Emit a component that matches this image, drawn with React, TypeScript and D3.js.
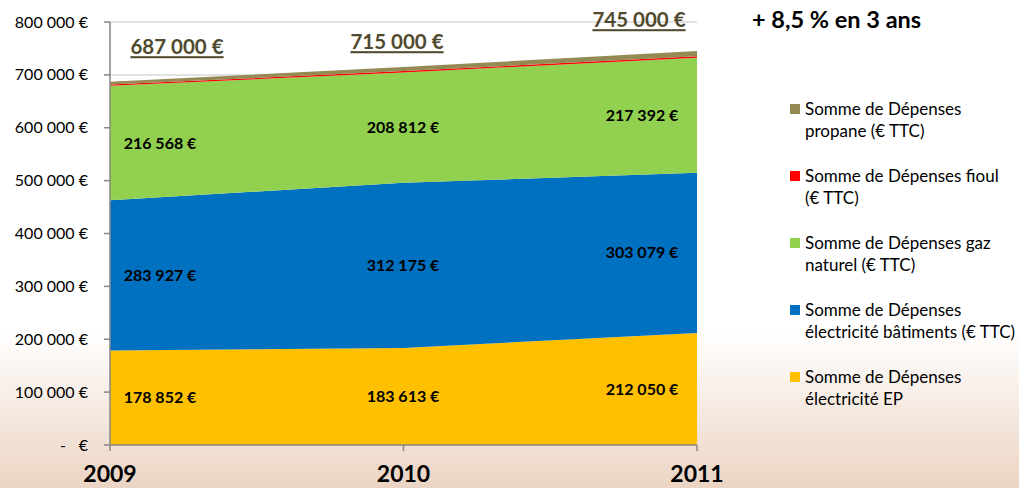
import React from "react";
import * as d3 from "d3";

const years = ["2009", "2010", "2011"];
const seriesKeys = ["ep", "batiments", "gaz", "fioul", "propane"];
const seriesNames = [
  ["Somme de Dépenses", "électricité EP"],
  ["Somme de Dépenses", "électricité bâtiments (€ TTC)"],
  ["Somme de Dépenses gaz", "naturel (€ TTC)"],
  ["Somme de Dépenses fioul", "(€ TTC)"],
  ["Somme de Dépenses", "propane (€ TTC)"],
];
const seriesColors = ["#ffc000", "#0070c0", "#92d050", "#ff0000", "#948a54"];
const ep = [178852, 183613, 212050];
const batiments = [283927, 312175, 303079];
const gaz = [216568, 208812, 217392];
const fioul = [2300, 2500, 2700];
const propane = [5353, 7900, 9779];
const totals = ["687 000 €", "715 000 €", "745 000 €"];
const yTicks = [0, 100000, 200000, 300000, 400000, 500000, 600000, 700000, 800000];

const W = 1019;
const H = 488;
const font = "Lato, 'Open Sans', sans-serif";

const fmt = (v: number) => d3.format(",")(v).replace(/,/g, " ") + " €";

export default function App() {
  const rows = years.map((y, i) => ({
    year: y,
    ep: ep[i],
    batiments: batiments[i],
    gaz: gaz[i],
    fioul: fioul[i],
    propane: propane[i],
  }));
  const stacked = d3.stack<any>().keys(seriesKeys)(rows);

  const x = d3.scalePoint().domain(years).range([110, 697]);
  const y = d3.scaleLinear().domain([0, 800000]).range([445, 22]);

  const area = d3
    .area<any>()
    .x((d) => x(d.data.year)!)
    .y0((d) => y(d[0]))
    .y1((d) => y(d[1]));

  // label x positions: first & last pulled inward
  const labelX = [160, 403, 642];
  const totalX = [177, 397, 639];
  const totalY = [47, 42, 20];

  return (
    <svg
      width={W}
      height={H}
      style={{ position: "absolute", left: 0, top: 0, fontFamily: font }}
    >
      <defs>
        <linearGradient id="bg" x1="0" y1="0" x2="0" y2="1">
          <stop offset="0" stopColor="#ffffff" />
          <stop offset="0.68" stopColor="#ffffff" />
          <stop offset="1" stopColor="#ebd4c3" />
        </linearGradient>
      </defs>
      <rect width={W} height={H} fill="url(#bg)" />

      {/* gridlines */}
      {yTicks.slice(1).map((t) => (
        <line key={t} x1={110} x2={697} y1={y(t)} y2={y(t)} stroke="#d9d9d9" strokeWidth={1.5} />
      ))}

      {/* areas */}
      {stacked.map((s, i) => (
        <path key={s.key} d={area(s) || ""} fill={seriesColors[i]} />
      ))}

      {/* y axis */}
      <line x1={110} x2={110} y1={22} y2={445} stroke="#868686" strokeWidth={1.5} />
      {yTicks.map((t) => (
        <g key={t}>
          <line x1={104} x2={110} y1={y(t)} y2={y(t)} stroke="#868686" strokeWidth={1.5} />
          {t === 0 ? (
            <>
              <text x={63} y={y(t)} dy="0.35em" textAnchor="middle" fontSize={16} fill="#000">-</text>
              <text x={88} y={y(t)} dy="0.35em" textAnchor="end" fontSize={16} fill="#000">€</text>
            </>
          ) : (
            <text x={88} y={y(t)} dy="0.35em" textAnchor="end" fontSize={16} fill="#000">
              {fmt(t)}
            </text>
          )}
        </g>
      ))}

      {/* x axis */}
      <line x1={110} x2={697} y1={445} y2={445} stroke="#868686" strokeWidth={1.5} />
      {years.map((yr) => (
        <g key={yr}>
          <line x1={x(yr)} x2={x(yr)} y1={445} y2={451} stroke="#868686" strokeWidth={1.5} />
          <text x={x(yr)} y={482} textAnchor="middle" fontSize={23} fontWeight="bold" fill="#000">
            {yr}
          </text>
        </g>
      ))}

      {/* value labels for the three big layers */}
      {stacked.slice(0, 3).map((s) =>
        s.map((d, j) => (
          <text
            key={s.key + j}
            x={labelX[j]}
            y={y((d[0] + d[1]) / 2)}
            dy="0.35em"
            textAnchor="middle"
            fontSize={16}
            fontWeight="bold"
            fill="#000"
          >
            {fmt(d[1] - d[0])}
          </text>
        ))
      )}

      {/* totals */}
      {totals.map((t, j) => (
        <text
          key={t}
          x={totalX[j]}
          y={totalY[j]}
          dy="0.35em"
          textAnchor="middle"
          fontSize={20.5}
          fontWeight="bold"
          fill="#4f4a2e"
          textDecoration="underline"
        >
          {t}
        </text>
      ))}
      <text x={752} y={20} dy="0.35em" fontSize={23.5} fontWeight="bold" fill="#000">
        + 8,5 % en 3 ans
      </text>

      {/* legend */}
      {seriesKeys
        .map((k, i) => i)
        .reverse()
        .map((i, r) => {
          const ly = 109 + r * 67;
          return (
            <g key={seriesKeys[i]}>
              <rect x={790} y={ly - 5} width={10} height={10} fill={seriesColors[i]} />
              <text x={805} y={ly} dy="0.35em" fontSize={17} fill="#000">
                {seriesNames[i][0]}
              </text>
              <text x={805} y={ly + 22} dy="0.35em" fontSize={17} fill="#000">
                {seriesNames[i][1]}
              </text>
            </g>
          );
        })}
    </svg>
  );
}
